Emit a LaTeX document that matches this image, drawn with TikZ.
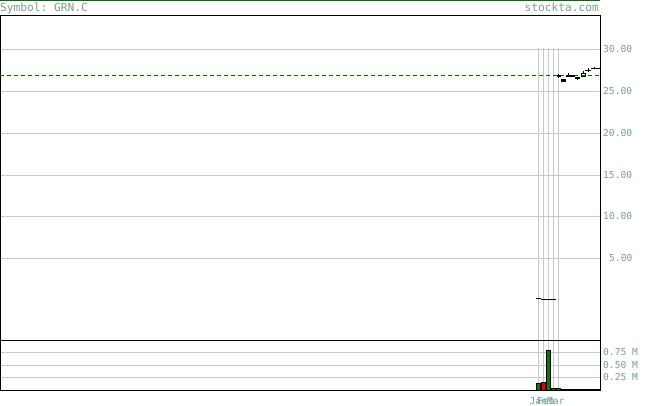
\documentclass[tikz,border=0pt]{standalone}
\usepackage{fontspec}
\setmonofont{DejaVu Sans Mono}
\begin{document}
\begin{tikzpicture}[x=1pt,y=-1pt,
  lbl/.style={inner sep=0pt,font=\ttfamily\fontsize{9.6}{10}\selectfont,text=axc,anchor=west},
  dlbl/.style={inner sep=0pt,font=\ttfamily\fontsize{9.6}{10}\selectfont,text=axc,anchor=base west},
  ttl/.style={inner sep=0pt,font=\ttfamily\fontsize{11.2}{12}\selectfont,text=axc},
  grid/.style={draw=gridc,line width=1pt},
  frame/.style={draw=black,line width=1pt},
  pbar/.style={draw=black,line width=1pt},
  vbar/.style={draw=black,line width=0.8pt}]
\definecolor{axc}{RGB}{120,160,140}
\definecolor{gridc}{RGB}{200,200,200}
\definecolor{dkgreen}{RGB}{0,110,0}
\definecolor{vgreen}{RGB}{0,128,0}
\definecolor{vred}{RGB}{230,0,0}
\useasboundingbox (0,0) rectangle (655,406);
\fill[white] (0,0) rectangle (655,406);
% top green line
\draw[dkgreen,line width=1.5pt] (0,0.75) -- (600,0.75);
% title
\node[ttl,anchor=north west] (sym) at (0,2.5) {Symbol: GRN.C};
\node[ttl,anchor=north east] (site) at (599,2.5) {stockta.com};
% horizontal grid main
\foreach \yy in {49.5,91.5,133.5,175.5,216.5,258.5}{\draw[grid] (0,\yy) -- (600,\yy);}
% horizontal grid volume
\foreach \yy in {352.5,365.5,377.5}{\draw[grid] (0,\yy) -- (600,\yy);}
% vertical grid
\foreach \xx in {538.5,543.5,548.5,553.5,558.5}{\draw[grid] (\xx,48) -- (\xx,390);}
% frames
\draw[frame] (0.5,15.5) rectangle (600.5,340.5);
\draw[frame] (0.5,340.5) -- (0.5,390.5) -- (600.5,390.5) -- (600.5,340.5);
% dashed line
\draw[dkgreen,line width=1pt,dash pattern=on 4pt off 3pt] (0,75.5) -- (600,75.5);
% price data
\draw[pbar] (536,298.3) -- (541,298.3);
\draw[pbar] (541,299.3) -- (556,299.3);
\fill[black] (556.5,75) rectangle (561,77.5);
\draw[pbar] (558.5,74) -- (558.5,78);
\fill[black] (561,79.5) rectangle (566,82);
\fill[black] (566,75) rectangle (575,77.5);
\draw[pbar] (568.5,73.5) -- (568.5,77);
\fill[black] (575,77.5) rectangle (580,79.5);
\draw[pbar] (577.5,77) -- (577.5,80.5);
\draw[pbar] (581.5,73.5) rectangle (585.5,77);
\draw[pbar] (583.5,71.5) -- (583.5,73.5);
\draw[pbar] (585,70.5) -- (591,70.5);
\draw[pbar] (588.5,68.5) -- (588.5,72.5);
\draw[pbar] (591,69) -- (600,69);
\draw[pbar] (594.5,67.5) -- (594.5,69);
% volume bars
\filldraw[vbar,fill=vgreen] (536.5,383) rectangle (540.5,390);
\filldraw[vbar,fill=vred] (541,382) rectangle (545.5,390);
\filldraw[vbar,fill=vgreen] (546.5,350.5) rectangle (550.5,390);
\filldraw[vbar,fill=vgreen] (551.5,388.5) rectangle (555.5,390);
\filldraw[vbar,fill=vgreen] (556,388.5) rectangle (560,390);
\draw[black,line width=1.5pt] (560,389.5) -- (600.5,389.5);
% axis labels
\node[lbl] (p30) at (603,49.5) {30.00};
\node[lbl] (p25) at (603,91.5) {25.00};
\node[lbl] (p20) at (603,133.5) {20.00};
\node[lbl] (p15) at (603,175.5) {15.00};
\node[lbl] (p10) at (603,216.5) {10.00};
\node[lbl] (p5) at (609,258.5) {5.00};
\node[lbl] (v75) at (603,352.5) {0.75 M};
\node[lbl] (v50) at (603,365.5) {0.50 M};
\node[lbl] (v25) at (603,377.5) {0.25 M};
% date labels
\node[dlbl] (dJan) at (529.5,404) {Jan};
\node[dlbl] (dFeb) at (537,404) {Feb};
\node[dlbl] (dMar) at (547,404) {Mar};
\end{tikzpicture}
\end{document}
